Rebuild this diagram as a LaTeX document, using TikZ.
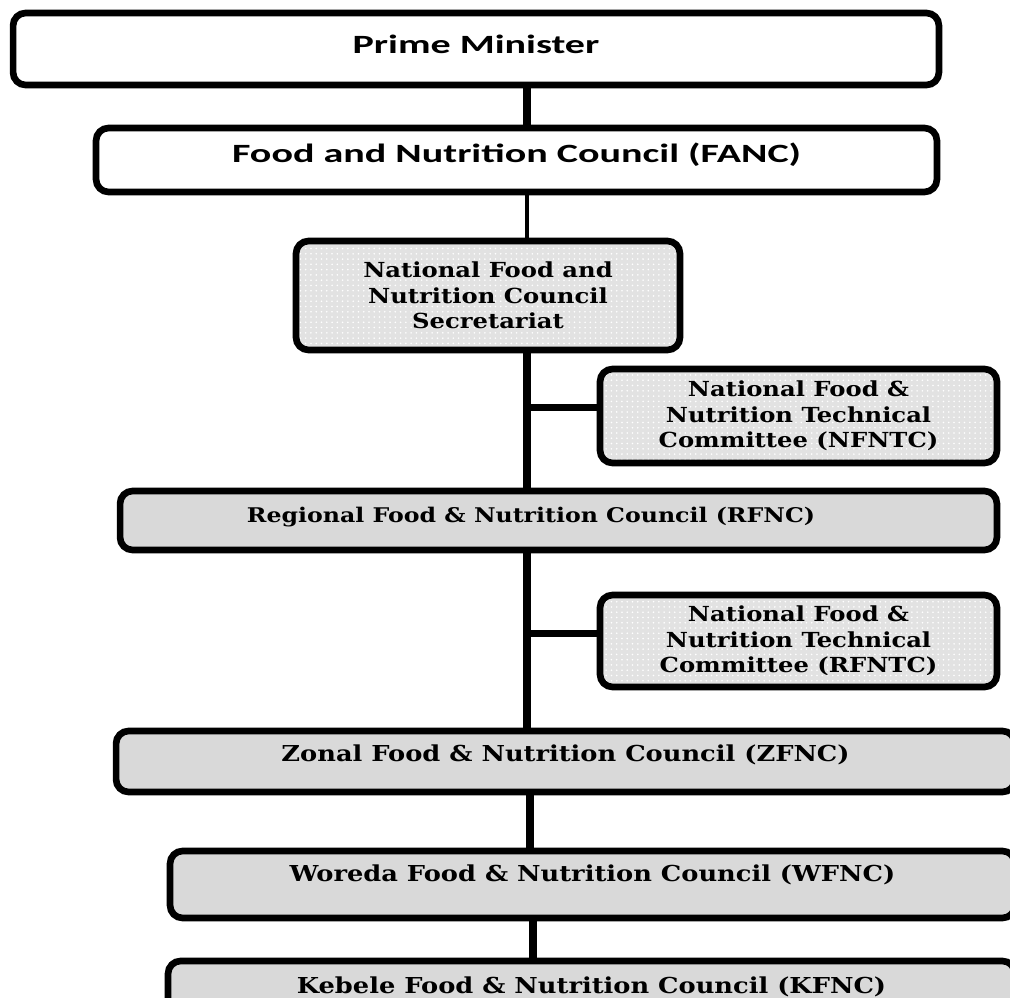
\documentclass[tikz,border=0pt]{standalone}
\usepackage{fontspec}
\usepackage{tikz}
\usetikzlibrary{patterns}
\newfontfamily\headfont[FakeStretch=1.52]{Carlito}
\newfontfamily\boxfont[FakeStretch=1.17]{DejaVu Serif}
\definecolor{boxgrey}{HTML}{D9D9D9}
\definecolor{dotgrey}{HTML}{E2E2E2}

\begin{document}
\begin{tikzpicture}[x=0.02cm,y=-0.02cm,
  box/.style={draw,line width=3.8pt,rounded corners=0.25cm,align=center,inner sep=0pt},
  head/.style={box,fill=white,font=\headfont\bfseries\fontsize{15}{18}\selectfont},
  council/.style={box,fill=boxgrey,font=\boxfont\bfseries\fontsize{11.5}{14}\selectfont},
  big/.style={font=\boxfont\bfseries\fontsize{12.5}{14}\selectfont},
  dotbox/.style={box,preaction={fill=dotgrey},pattern=dots,pattern color=white,
    font=\boxfont\bfseries\fontsize{11.8}{14.5}\selectfont},
  link/.style={line width=4pt}]
\clip (0,0) rectangle (1010,997);
\node[head,minimum width=18.52cm,minimum height=1.44cm,text depth=5.7pt] (pm) at (476,49) {Prime Minister};
\node[head,minimum width=16.82cm,minimum height=1.28cm,text depth=8.7pt] (fanc) at (516.5,160) {Food and Nutrition Council (FANC)};
\node[dotbox,minimum width=7.68cm,minimum height=2.18cm] (nfncs) at (488,295.5) {National Food and\\Nutrition Council\\Secretariat};
\node[dotbox,minimum width=7.94cm,minimum height=1.88cm] (nfntc) at (798.5,416) {National Food \&\\Nutrition Technical\\Committee (NFNTC)};
\node[council,minimum width=17.54cm,minimum height=1.18cm,text depth=7pt] (rfnc) at (558.5,520.5) {Regional Food \& Nutrition Council (RFNC)\hspace*{1.1cm}};
\node[dotbox,minimum width=7.94cm,minimum height=1.84cm] (rfntc) at (798.5,641) {National Food \&\\Nutrition Technical\\Committee (RFNTC)};
\node[council,big,minimum width=17.98cm,minimum height=1.22cm,text depth=9pt] (zfnc) at (565.5,761.5) {Zonal Food \& Nutrition Council (ZFNC)};
\node[council,big,minimum width=16.9cm,minimum height=1.34cm,text depth=12.5pt] (wfnc) at (592.5,884.5) {Woreda Food \& Nutrition Council (WFNC)};
\node[council,big,minimum width=16.94cm,minimum height=1.04cm] (kfnc) at (591.5,987) {Kebele Food \& Nutrition Council (KFNC)};
\coordinate (trunk) at (527,0);
\draw[link] (pm.south -| trunk) -- (fanc.north -| trunk);
\draw[line width=2.8pt] (fanc.south -| trunk) -- (nfncs.north -| trunk);
\draw[link] (nfncs.south -| trunk) -- (rfnc.north -| trunk);
\draw[link] (rfnc.south -| trunk) -- (zfnc.north -| trunk);
\draw[link] ([yshift=5pt]nfntc.west -| trunk) -- ([yshift=5pt]nfntc.west);
\draw[link] ([yshift=4.5pt]rfntc.west -| trunk) -- ([yshift=4.5pt]rfntc.west);
\draw[link] ([xshift=0.06cm]zfnc.south -| trunk) -- ([xshift=0.06cm]wfnc.north -| trunk);
\draw[link] ([xshift=0.12cm]wfnc.south -| trunk) -- ([xshift=0.12cm]kfnc.north -| trunk);
\end{tikzpicture}
\end{document}
